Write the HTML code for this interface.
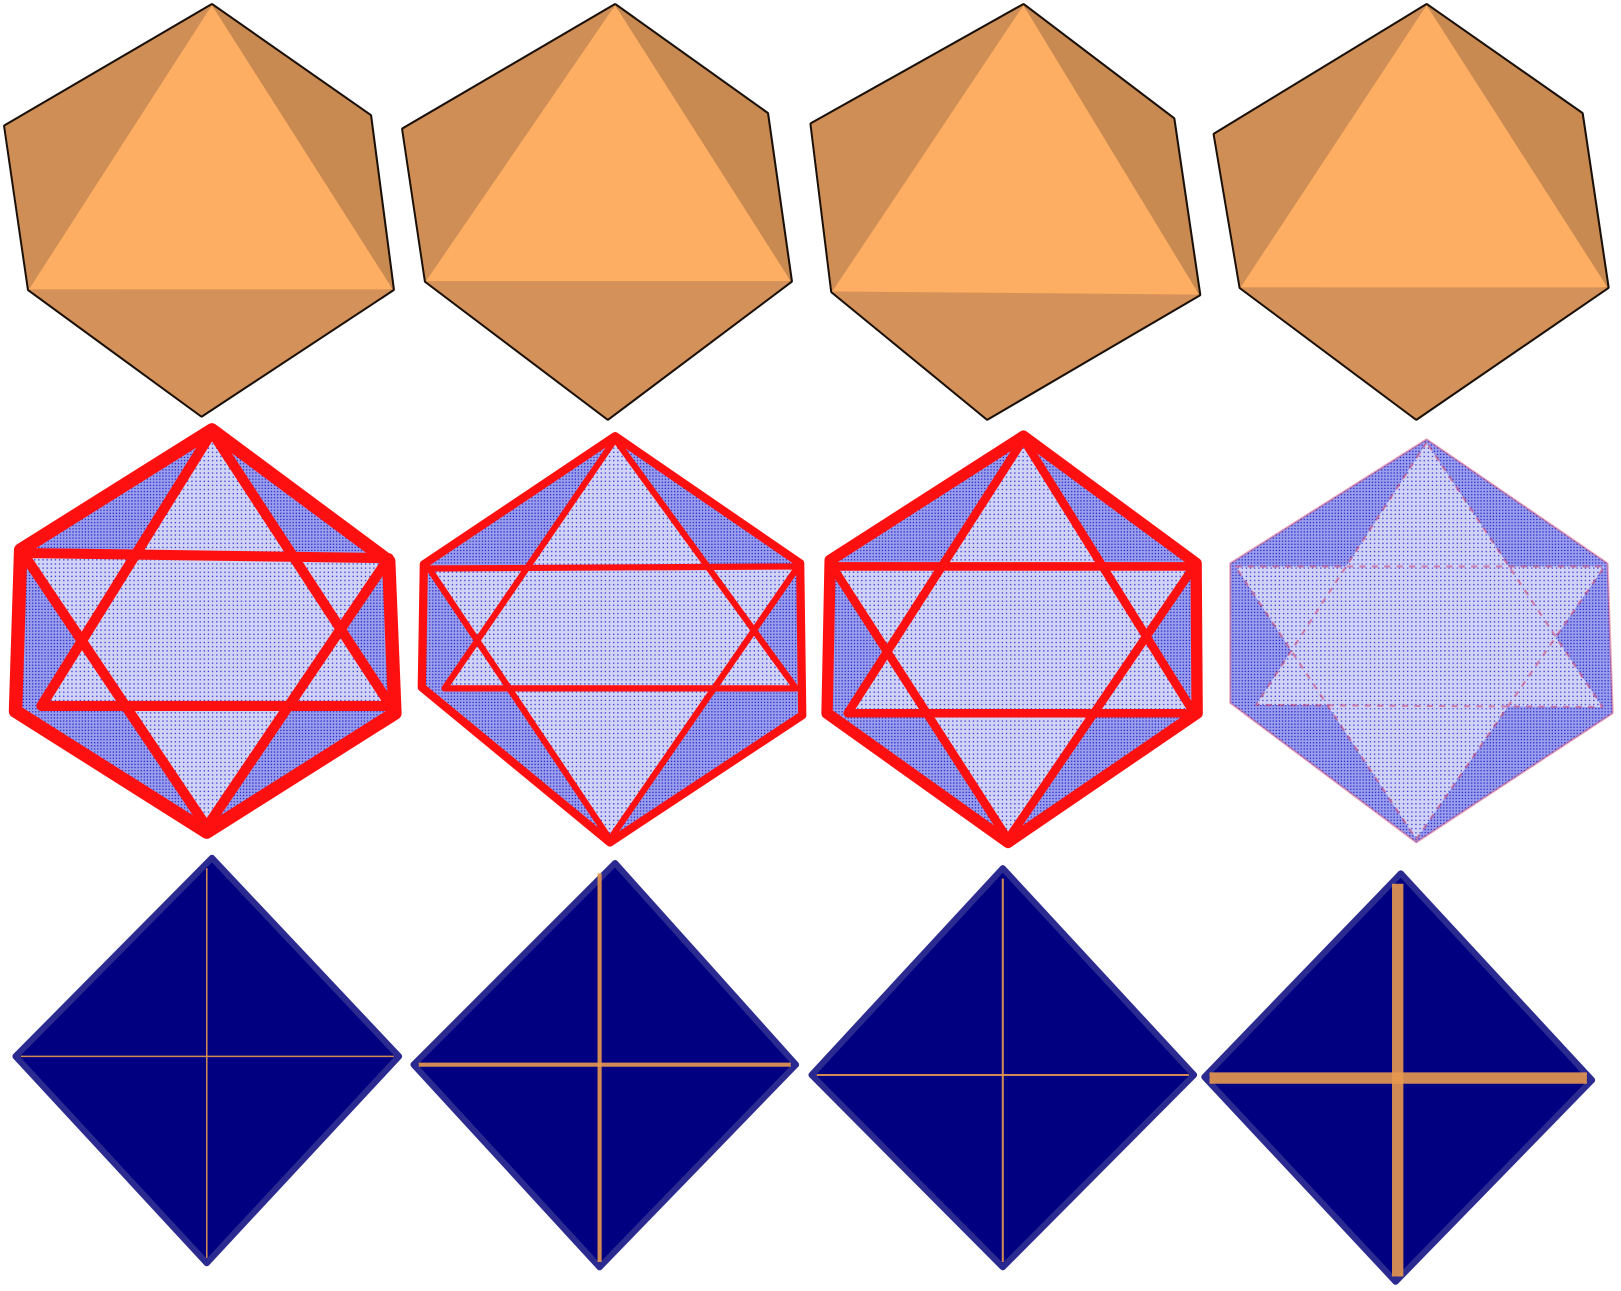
<!DOCTYPE html>
<html><head><meta charset="utf-8"><style>
html,body{margin:0;padding:0;background:#fff;width:1621px;height:1291px;overflow:hidden}
svg{display:block}
</style></head><body>
<svg width="1621" height="1291" viewBox="0 0 1568 1249" preserveAspectRatio="none" xmlns="http://www.w3.org/2000/svg">
<defs>
<pattern id="dots" width="4" height="4" patternUnits="userSpaceOnUse"><rect width="4" height="4" fill="#d2d4f6"/><rect x="1" y="1" width="1.3" height="1.3" fill="#3a3ad8"/></pattern>
<pattern id="dotsD" width="3" height="3" patternUnits="userSpaceOnUse"><rect width="3" height="3" fill="#9a9eec"/><rect x="1" y="1" width="1.2" height="1.2" fill="#2020c8"/></pattern>
</defs>
<g id="row1"></g>
<g id="row2"></g>
<g id="row3"></g>
</svg>
<script>
const NS='http://www.w3.org/2000/svg';
function poly(parent,pts,attrs){const p=document.createElementNS(NS,'polygon');p.setAttribute('points',pts.map(q=>q.join(',')).join(' '));for(const k in attrs)p.setAttribute(k,attrs[k]);parent.appendChild(p);return p;}
function line(parent,a,b,attrs){const l=document.createElementNS(NS,'line');l.setAttribute('x1',a[0]);l.setAttribute('y1',a[1]);l.setAttribute('x2',b[0]);l.setAttribute('y2',b[1]);for(const k in attrs)l.setAttribute(k,attrs[k]);parent.appendChild(l);return l;}
const octs=[
 [[205,5],[5,122],[28,280],[195,402],[380,280],[358,112]],
 [[595,5],[390,125],[412,272],[588,405],[765,272],[742,110]],
 [[990,5],[785,120],[805,282],[955,405],[1160,285],[1135,115]],
 [[1380,5],[1175,130],[1200,278],[1370,405],[1555,278],[1530,110]]
];
const r1=document.getElementById('row1');
octs.forEach((o,i)=>{
 const g=document.createElementNS(NS,'g');
 
 
 r1.appendChild(g);
 const [t,ul,fl,b,fr,ur]=o;
 poly(g,[t,ul,fl,b,fr,ur],{fill:'#c98a50',stroke:'#1a1008','stroke-width':4,'stroke-linejoin':'round'});
 poly(g,[ul,fl,b],{fill:'#c4864e'});
 poly(g,[fl,fr,b],{fill:'#d4925a'});
 poly(g,[t,ul,fl],{fill:'#cf8e56'});
 poly(g,[t,fl,fr],{fill:'#fdae62'});
 poly(g,[t,ur,fr],{fill:'#c98a52'});
});
const icos=[
 {hex:[[205,416],[20,532],[15,688],[200,805],[382,690],[376,543]],up:[[205,418],[40,683],[378,683]],dn:[[22,535],[376,540],[200,800]],red:13},
 {hex:[[595,422],[410,546],[408,665],[590,815],[776,692],[774,545]],up:[[595,425],[430,666],[770,666]],dn:[[415,550],[772,548],[590,812]],red:8},
 {hex:[[990,422],[803,542],[800,690],[975,815],[1158,690],[1157,545]],up:[[990,425],[820,690],[1155,690]],dn:[[805,548],[1155,548],[975,812]],red:11},
 {hex:[[1380,425],[1190,545],[1190,680],[1370,815],[1560,690],[1555,545]],up:[[1380,428],[1215,682],[1550,684]],dn:[[1195,548],[1552,548],[1370,812]],red:3}
];
const r2=document.getElementById('row2');
icos.forEach((c,i)=>{
 const g=document.createElementNS(NS,'g');
 
 
 r2.appendChild(g);
 poly(g,c.hex,{fill:'url(#dotsD)'});
 poly(g,c.up,{fill:'url(#dots)'});
 poly(g,c.dn,{fill:'url(#dots)'});
 const strong=c.red>5;
 const col=strong?'#ff1010':'#d03060';
 poly(g,c.up,{fill:'none',stroke:col,'stroke-width':strong?c.red*0.75:2,'stroke-linejoin':'round',opacity:strong?1:0.5,'stroke-dasharray':strong?'none':'6 6'});
 poly(g,c.dn,{fill:'none',stroke:col,'stroke-width':strong?c.red*0.75:2,'stroke-linejoin':'round',opacity:strong?1:0.5,'stroke-dasharray':strong?'none':'6 6'});
 poly(g,c.hex,{fill:'none',stroke:col,'stroke-width':strong?c.red:2,'stroke-linejoin':'round',opacity:strong?1:0.4});
});
const dias=[
 {d:[[205,830],[15,1022],[200,1222],[386,1022]],c:[200,1022],w:1.5},
 {d:[[595,835],[400,1030],[580,1226],[770,1030]],c:[580,1030],w:4},
 {d:[[970,840],[785,1040],[970,1226],[1155,1040]],c:[970,1040],w:2},
 {d:[[1355,845],[1165,1042],[1350,1240],[1540,1045]],c:[1352,1043],w:11}
];
const r3=document.getElementById('row3');
dias.forEach((o,i)=>{
 const g=document.createElementNS(NS,'g');
 
 
 r3.appendChild(g);
 poly(g,o.d,{fill:'#000080',stroke:'#2a2a90','stroke-width':6,'stroke-linejoin':'round'});
 const [t,l,b,r]=o.d;
 line(g,[o.c[0],t[1]+10],[o.c[0],b[1]-5],{stroke:'#e8994f','stroke-width':o.w,opacity:0.9});
 line(g,[l[0]+5,o.c[1]],[r[0]-5,o.c[1]],{stroke:'#e8994f','stroke-width':o.w,opacity:0.9});
});
</script>
</body></html>
